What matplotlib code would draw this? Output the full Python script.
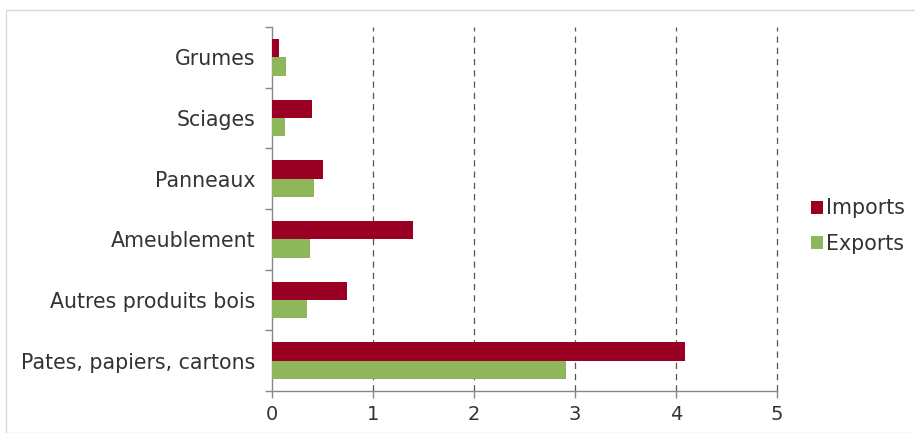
import matplotlib
matplotlib.use("Agg")
import matplotlib.pyplot as plt
import numpy as np
from matplotlib.patches import Rectangle

categories = ["Grumes", "Sciages", "Panneaux", "Ameublement", "Autres produits bois", "Pates, papiers, cartons"]
imports = [0.07, 0.40, 0.50, 1.40, 0.74, 4.09]
exports = [0.14, 0.13, 0.42, 0.38, 0.35, 2.91]
xticks = [0, 1, 2, 3, 4, 5]

plt.rcParams['font.family'] = ['DejaVu Sans']

fig = plt.figure(figsize=(9.15, 4.33), dpi=100)
fig.patches.append(Rectangle((6/915, 0), 1, 1 - 10/433, transform=fig.transFigure,
                             fill=False, edgecolor='#d9d9d9', linewidth=1))
ax = fig.add_axes([272/915, 1 - 391/433, 505/915, 364/433])

n = len(categories)
y = np.arange(n)
h = 0.3
ax.barh(y - h/2, imports, height=h, color='#990024', label='Imports', zorder=3)
ax.barh(y + h/2, exports, height=h, color='#8db75a', label='Exports', zorder=3)

ax.set_ylim(n - 0.5, -0.5)
ax.set_xlim(0, 5)
ax.set_xticks(xticks)
ax.set_xticklabels([str(t) for t in xticks], fontsize=14, color='#333333')
ax.set_yticks(y)
ax.set_yticklabels(categories, fontsize=14.8, color='#333333')
ax.tick_params(axis='y', length=0, pad=12)
ax.set_yticks(np.arange(-0.5, n, 1), minor=True)
ax.tick_params(axis='y', which='minor', length=5, color='#888888', width=1)
ax.tick_params(axis='x', length=5, color='#888888', width=1, pad=5)

for xv in xticks[1:]:
    ax.axvline(xv, color='#555555', linestyle=(0, (5, 4)), linewidth=0.9, zorder=1, clip_on=False)

for s in ['top', 'right']:
    ax.spines[s].set_visible(False)
for s in ['left', 'bottom']:
    ax.spines[s].set_color('#888888')
    ax.spines[s].set_linewidth(1)

leg = fig.legend(loc='center left', bbox_to_anchor=(792/915, 1 - 226/433), frameon=False,
                 handlelength=0.6, handleheight=0.6, handletextpad=0.15,
                 labelspacing=0.75, prop={'size': 14.8})
for t in leg.get_texts():
    t.set_color('#333333')

fig.savefig("out.png", dpi=100)
